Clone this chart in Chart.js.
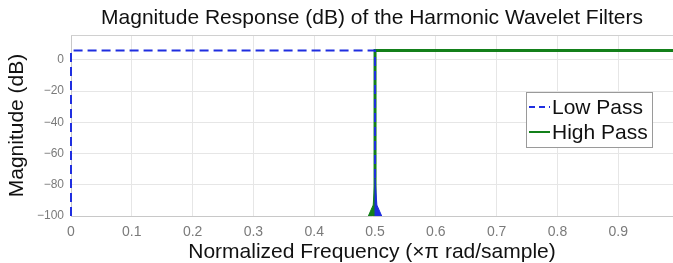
<!DOCTYPE html>
<html>
<head>
<meta charset="utf-8">
<script src="https://cdn.jsdelivr.net/npm/chart.js@4"></script>
<style>
    html, body { margin: 0; padding: 0; background: #fff; }
    #wrap { width: 673px; height: 263px; position: relative; }
</style>
</head>
<body>
<div id="wrap"><canvas id="magChart"></canvas></div>
<script>
// Harmonic wavelet filters, gain of 2 -> about 6.02 dB in the pass band
const lowFreq = [0, 0, 0.5, 0.5];
const lowMag = [-100, 6.02, 6.02, -100];
const highFreq = [0.5, 0.5, 0.99];
const highMag = [-100, 6.02, 6.02];

// small leakage spikes at the band edge
const lowSpikeFreq = [0.5, 0.5, 0.503, 0.511];
const lowSpikeMag = [-100, -76, -93, -100];
const highSpikeFreq = [0.489, 0.497, 0.5, 0.5];
const highSpikeMag = [-100, -93, -76, -100];

const xTicks = [0, 0.1, 0.2, 0.3, 0.4, 0.5, 0.6, 0.7, 0.8, 0.9];
const yTicks = [-100, -80, -60, -40, -20, 0];

const chartTitle = 'Magnitude Response (dB) of the Harmonic Wavelet Filters';

const BLUE = '#1f2ee0';
const GREEN = '#13801a';
const FONT = '"Liberation Sans", Arial, sans-serif';

function toPoints(xs, ys) {
    return xs.map((x, i) => ({ x: x, y: ys[i] }));
}

// title centred over the plot, top frame line and the legend box inside the plot
const boxLegend = {
    id: 'boxLegend',
    afterDraw(chart) {
        const ctx = chart.ctx;
        const area = chart.chartArea;
        ctx.save();
        ctx.fillStyle = '#111';
        ctx.font = '21px ' + FONT;
        ctx.textAlign = 'center';
        ctx.textBaseline = 'middle';
        ctx.fillText(chartTitle, (area.left + area.right) / 2, 18);

        ctx.strokeStyle = '#d0d0d0';
        ctx.lineWidth = 1;
        ctx.beginPath();
        ctx.moveTo(area.left, area.top + 0.5);
        ctx.lineTo(area.right, area.top + 0.5);
        ctx.stroke();

        const items = chart.data.datasets.filter(d => d.inLegend);
        const bx = 526, by = 92, bw = 126, bh = 55;
        ctx.fillStyle = '#fff';
        ctx.fillRect(bx, by, bw, bh);
        ctx.strokeStyle = '#9a9a9a';
        ctx.strokeRect(bx + 0.5, by + 0.5, bw, bh);
        ctx.textAlign = 'left';
        items.forEach((d, i) => {
            const y = by + 15 + i * 25;
            ctx.strokeStyle = d.borderColor;
            ctx.lineWidth = 2;
            ctx.setLineDash(d.borderDash ? [6, 4] : []);
            ctx.beginPath();
            ctx.moveTo(bx + 3, y);
            ctx.lineTo(bx + 24, y);
            ctx.stroke();
            ctx.setLineDash([]);
            ctx.fillStyle = '#111';
            ctx.fillText(d.label, bx + 26, y + 1);
        });
        ctx.restore();
    }
};

const ctx = document.getElementById('magChart').getContext('2d');
const magChart = new Chart(ctx, {
    type: 'line',
    data: {
        datasets: [
            {
                label: 'Low Pass edge',
                data: toPoints(lowSpikeFreq, lowSpikeMag),
                borderColor: BLUE,
                backgroundColor: BLUE,
                borderWidth: 1,
                fill: 'start',
                pointRadius: 0,
                tension: 0
            },
            {
                label: 'High Pass edge',
                data: toPoints(highSpikeFreq, highSpikeMag),
                borderColor: GREEN,
                backgroundColor: GREEN,
                borderWidth: 1,
                fill: 'start',
                pointRadius: 0,
                tension: 0
            },
            {
                label: 'Low Pass',
                inLegend: true,
                data: toPoints(lowFreq, lowMag),
                borderColor: BLUE,
                borderWidth: 2,
                borderDash: [9, 5],
                fill: false,
                pointRadius: 0,
                tension: 0,
                clip: 3
            },
            {
                label: 'High Pass',
                inLegend: true,
                data: toPoints(highFreq, highMag),
                borderColor: GREEN,
                borderWidth: 3,
                fill: false,
                pointRadius: 0,
                tension: 0
            }
        ]
    },
    options: {
        responsive: true,
        maintainAspectRatio: false,
        animation: false,
        layout: {
            padding: { left: 0, right: 0, top: 35, bottom: 0 }
        },
        plugins: {
            legend: { display: false },
            tooltip: { enabled: false },
            title: { display: false }
        },
        scales: {
            x: {
                type: 'linear',
                min: 0,
                max: 0.99,
                afterBuildTicks: scale => {
                    scale.ticks = xTicks.map(v => ({ value: v }));
                },
                afterFit: scale => { scale.height = 47; },
                ticks: {
                    color: '#7a7a7a',
                    font: { family: FONT, size: 14 },
                    padding: 8,
                    maxRotation: 0,
                    callback: v => String(v)
                },
                grid: { color: '#e6e6e6', drawTicks: false },
                border: { color: '#c8c8c8' },
                title: {
                    display: true,
                    text: 'Normalized Frequency (×π rad/sample)',
                    color: '#111',
                    font: { family: FONT, size: 21, lineHeight: 1.0 },
                    padding: { top: 0, bottom: 0 }
                }
            },
            y: {
                min: -100,
                max: 16,
                afterBuildTicks: scale => {
                    scale.ticks = yTicks.map(v => ({ value: v }));
                },
                afterFit: scale => { scale.width = 71; },
                ticks: {
                    color: '#7a7a7a',
                    font: { family: FONT, size: 12 },
                    padding: 7,
                    callback: v => (v < 0 ? '\u2212' + Math.abs(v) : String(v))
                },
                grid: { color: '#e6e6e6', drawTicks: false },
                border: { color: '#c8c8c8' },
                title: {
                    display: true,
                    text: 'Magnitude (dB)',
                    color: '#111',
                    font: { family: FONT, size: 21, lineHeight: 1.0 },
                    padding: { top: 7, bottom: 0 }
                }
            }
        }
    },
    plugins: [boxLegend]
});
</script>
</body>
</html>
